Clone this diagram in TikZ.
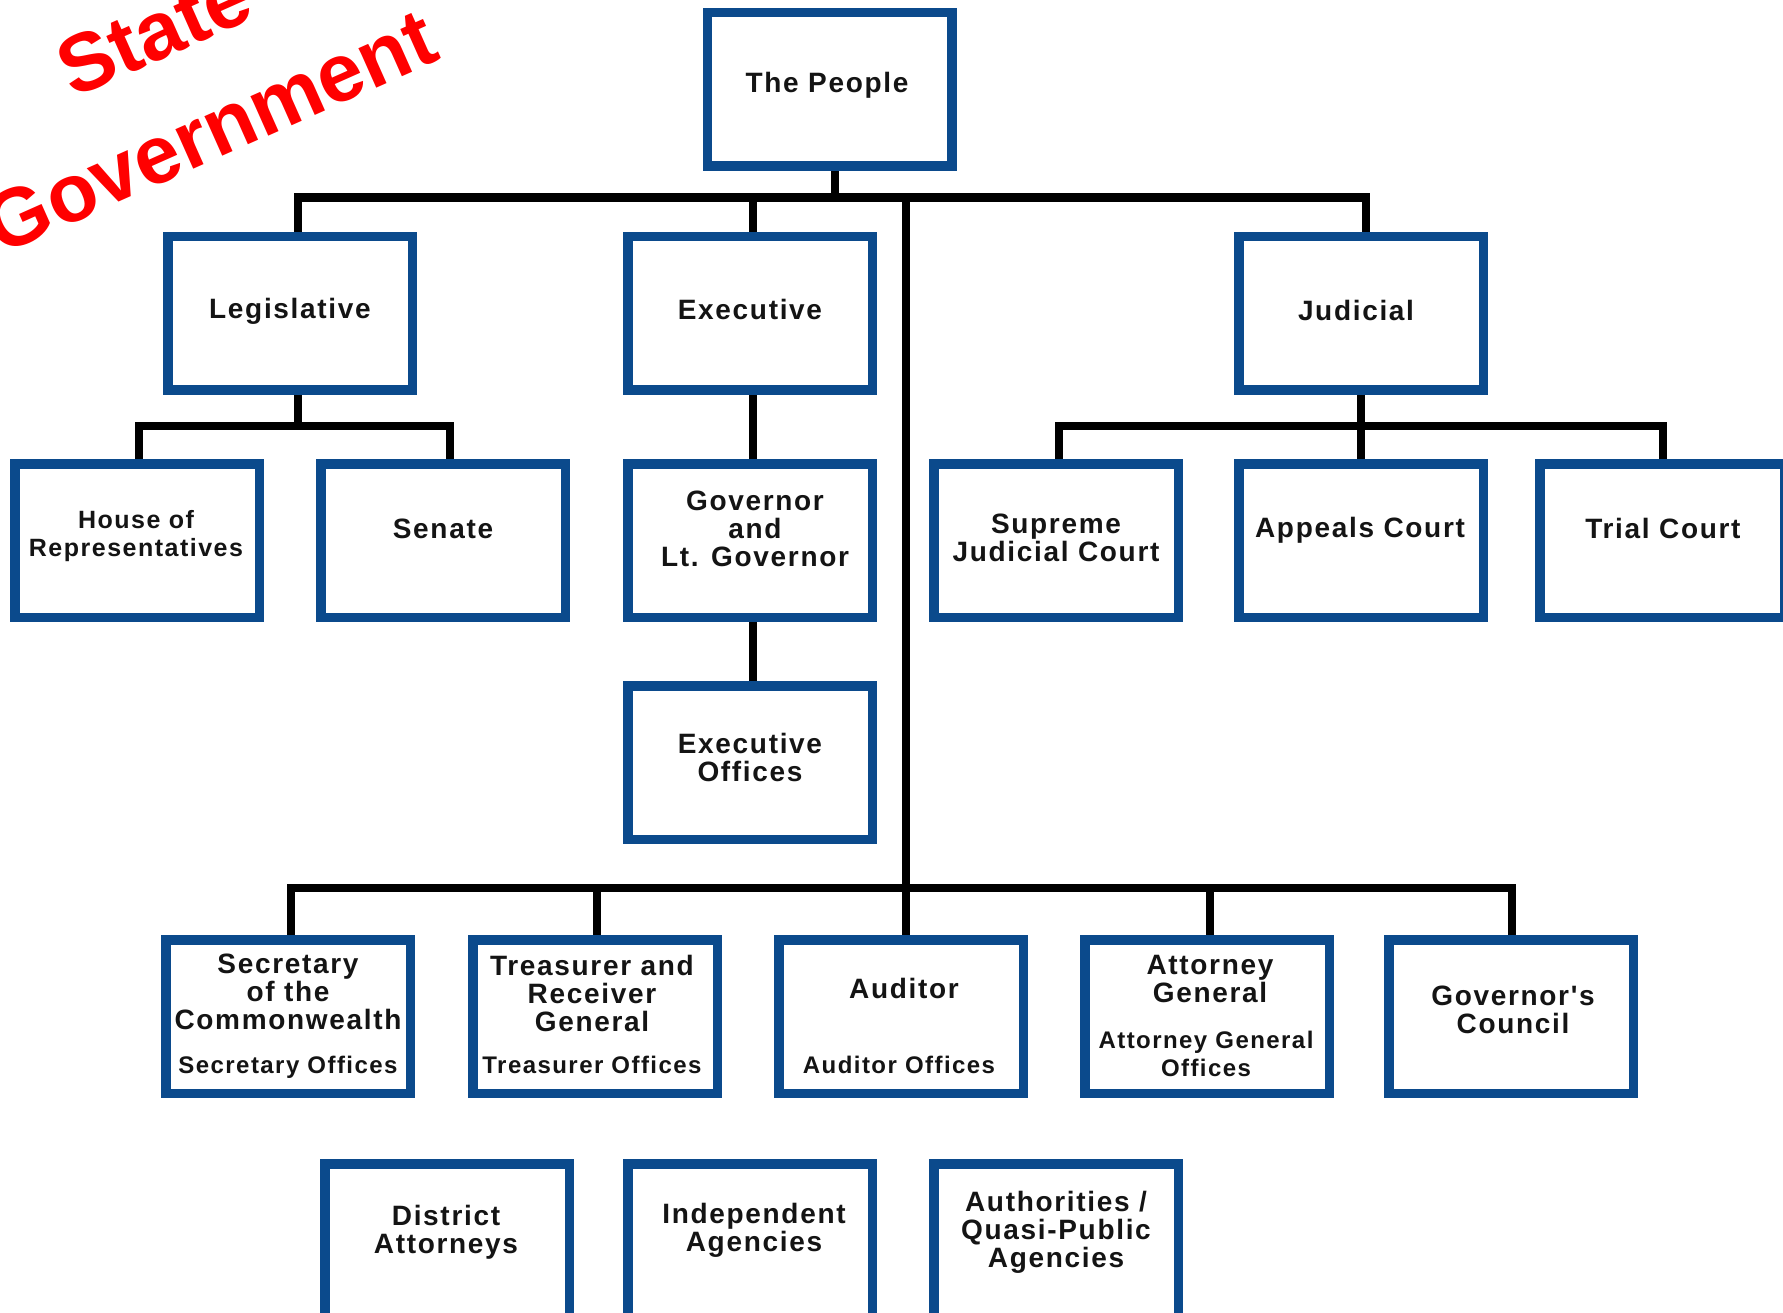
\documentclass[tikz,border=0pt]{standalone}
\usepackage{fontspec}
\setmainfont{Liberation Sans}
\newfontfamily\boxfont[LetterSpace=6]{Liberation Sans}
\newfontfamily\titlefont{Liberation Sans}
\usetikzlibrary{backgrounds}
\definecolor{boxblue}{RGB}{11,74,140}
\definecolor{txt}{RGB}{20,20,20}
\tikzset{
  box/.style={draw=boxblue, line width=9.5pt, fill=white, minimum width=244.5pt, minimum height=153.5pt, inner sep=0pt},
  conn/.style={draw=black, line width=8.5pt},
  lbl/.style={text=txt, align=center, inner sep=0pt, font=\boxfont\bfseries\fontsize{28}{28}\selectfont},
  lblmid/.style={lbl, font=\boxfont\bfseries\fontsize{25}{28}\selectfont},
  lblsmall/.style={lbl, font=\boxfont\bfseries\fontsize{24}{28}\selectfont},
  titletext/.style={text=red, inner sep=0pt, rotate=24, font=\titlefont\bfseries\fontsize{82}{82}\selectfont}
}
\begin{document}
\begin{tikzpicture}[x=1pt,y=-1pt]
\useasboundingbox (0,0) rectangle (1783,1313);
% title
\node[titletext] (t-state) at (154,32) {State};
\node[titletext] (t-govt) at (210,131) {Government};
% boxes
\node[box] (people) at (829.5,89.5) {};
\node[box] (leg) at (290,313.5) {};
\node[box] (exec) at (750,313.5) {};
\node[box] (jud) at (1361,313.5) {};
\node[box] (house) at (137,540.5) {};
\node[box] (sen) at (443,540.5) {};
\node[box] (gov) at (750,540.5) {};
\node[box] (sup) at (1056,540.5) {};
\node[box] (app) at (1361,540.5) {};
\node[box] (trial) at (1662,540.5) {};
\node[box] (eo) at (750,762.5) {};
\node[box] (sec) at (288,1016.5) {};
\node[box] (tre) at (595,1016.5) {};
\node[box] (aud) at (901,1016.5) {};
\node[box] (ag) at (1207,1016.5) {};
\node[box] (gc) at (1511,1016.5) {};
\node[box] (da) at (447,1240.5) {};
\node[box] (ia) at (750,1240.5) {};
\node[box] (auth) at (1056,1240.5) {};
% texts
\node[lbl] (t-people) at (827,85) {The People};
\node[lbl] (t-leg) at (290,311) {Legislative};
\node[lbl] (t-exec) at (750,309) {Executive};
\node[lbl] (t-jud) at (1356,310) {Judicial};
\node[lblmid] (t-house) at (136,536) {House of\\Representatives};
\node[lbl] (t-sen) at (443,529) {Senate};
\node[lbl] (t-gov) at (755,529) {Governor\\and\\Lt. Governor};
\node[lbl] (t-sup) at (1056,538) {Supreme\\Judicial Court};
\node[lbl] (t-app) at (1360,530) {Appeals Court};
\node[lbl] (t-trial) at (1663,528) {Trial Court};
\node[lbl] (t-eo) at (750,757) {Executive\\Offices};
\node[lbl] (t-sec) at (288,992) {Secretary\\of the\\Commonwealth};
\node[lblsmall] (t-seco) at (288,1067) {Secretary Offices};
\node[lbl] (t-tre) at (592,993) {Treasurer and\\Receiver\\General};
\node[lblsmall] (t-treo) at (592,1065) {Treasurer Offices};
\node[lbl] (t-aud) at (904,988) {Auditor};
\node[lblsmall] (t-audo) at (899,1065) {Auditor Offices};
\node[lbl] (t-ag) at (1210,979) {Attorney\\General};
\node[lblsmall] (t-ago) at (1206,1054) {Attorney General\\Offices};
\node[lbl] (t-gc) at (1513,1010) {Governor's\\Council};
\node[lbl] (t-da) at (446,1232) {District\\Attorneys};
\node[lbl] (t-ia) at (754,1230) {Independent\\Agencies};
\node[lbl] (t-auth) at (1056,1232) {Authorities /\\Quasi-Public\\Agencies};
% connectors
\coordinate (tb) at (0,197.5);
\coordinate (sb) at (0,426);
\coordinate (bb) at (0,888);
\begin{scope}[on background layer]
\draw[conn] ([xshift=5.5pt]people.south) -- ([xshift=5.5pt]people.south |- tb);
\draw[conn] ([xshift=8pt]leg.north) |- ([xshift=5pt]jud.north |- tb) -- ([xshift=5pt]jud.north);
\draw[conn] ([xshift=3pt]exec.north) -- ([xshift=3pt]exec.north |- tb);
\draw[conn] ([xshift=5pt]aud.north) -- ([xshift=5pt]aud.north |- tb);
\draw[conn] ([xshift=8pt]leg.south) -- ([xshift=8pt]leg.south |- sb);
\draw[conn] ([xshift=2pt]house.north) |- ([xshift=7pt]sen.north |- sb) -- ([xshift=7pt]sen.north);
\draw[conn] (jud.south) -- (app.north);
\draw[conn] ([xshift=3pt]sup.north) |- ([xshift=1pt]trial.north |- sb) -- ([xshift=1pt]trial.north);
\draw[conn] ([xshift=3pt]exec.south) -- ([xshift=3pt]gov.north);
\draw[conn] ([xshift=3pt]gov.south) -- ([xshift=3pt]eo.north);
\draw[conn] ([xshift=3pt]sec.north) |- ([xshift=1pt]gc.north |- bb) -- ([xshift=1pt]gc.north);
\draw[conn] ([xshift=2pt]tre.north) -- ([xshift=2pt]tre.north |- bb);
\draw[conn] ([xshift=3pt]ag.north) -- ([xshift=3pt]ag.north |- bb);
\end{scope}
\end{tikzpicture}
\end{document}
